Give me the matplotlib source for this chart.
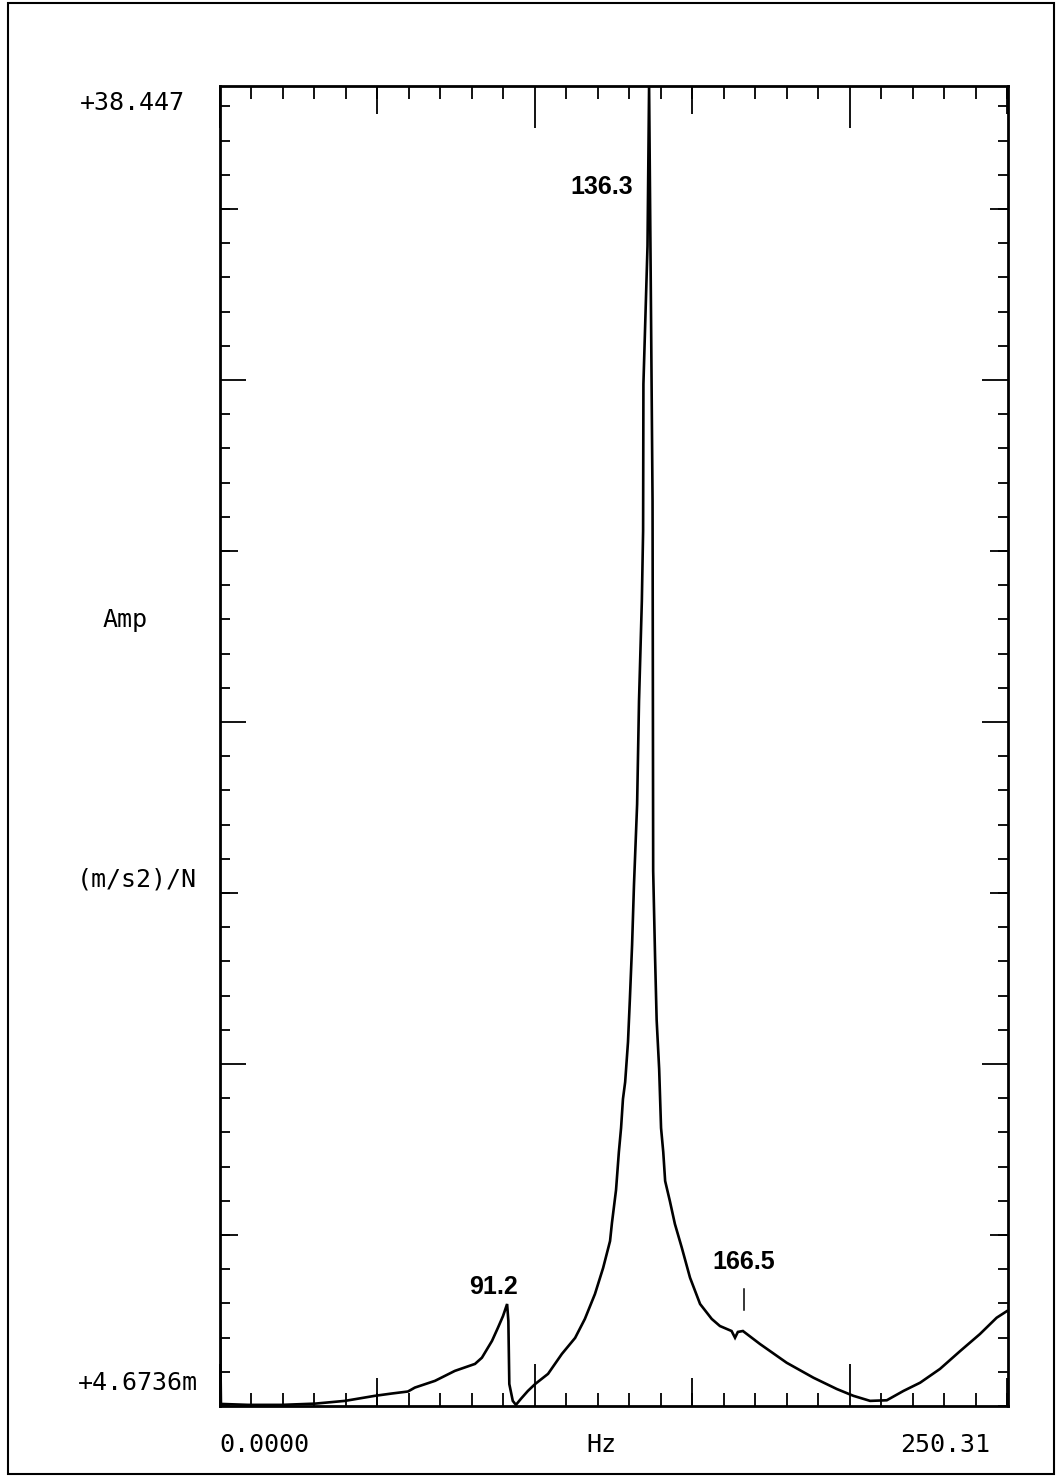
import numpy as np
import matplotlib.pyplot as plt
from matplotlib.ticker import FixedLocator, NullLocator
from matplotlib.patches import Rectangle

# FRF magnitude, (m/s2)/N vs frequency in Hz
freq = [0.0, 0.3, 8.9, 19.7, 30.2, 39.7, 49.2, 54.6, 59.7, 61.9,
        68.3, 74.6, 81.0, 83.2, 86.4, 88.3, 89.9, 91.2, 91.6, 91.9,
        93.0, 94.0, 95.6, 97.8, 100.1, 104.2, 108.6, 112.8, 115.9, 119.1,
        121.7, 123.9, 124.5, 125.8, 126.7, 127.4, 128.0, 128.7, 129.6, 130.2,
        130.9, 131.5, 132.5, 133.1, 134.0, 134.4, 134.5, 135.8, 136.3, 136.8,
        137.4, 137.6, 138.2, 138.7, 139.5, 140.1, 140.8, 141.4, 142.9, 144.5,
        146.7, 149.3, 152.5, 156.2, 158.8, 162.5, 163.6, 164.5, 166.1, 171.5,
        180.0, 188.5, 195.9, 201.2, 206.5, 211.8, 217.1, 222.4, 228.7, 235.1,
        241.4, 246.7, 250.0]
amp = [0.00835, 0.00474, 0.00471, 0.00471, 0.00475, 0.00484, 0.00501, 0.00509, 0.00516, 0.00530,
       0.00555, 0.00594, 0.00623, 0.00650, 0.00729, 0.00798, 0.00864, 0.00938, 0.00835, 0.00543,
       0.00484, 0.00471, 0.00491, 0.00518, 0.00543, 0.00582, 0.00667, 0.00744, 0.00847, 0.01004,
       0.01200, 0.01442, 0.01631, 0.02043, 0.02649, 0.03121, 0.03804, 0.04272, 0.05615, 0.07530,
       0.1089, 0.1641, 0.2851, 0.5763, 1.141, 1.841, 5.023, 12.89, 38.40, 10.87,
       2.259, 0.1805, 0.1003, 0.06527, 0.04669, 0.03121, 0.02649, 0.02173, 0.01895, 0.01620,
       0.01377, 0.01123, 0.00938, 0.00847, 0.00807, 0.00780, 0.00745, 0.00775, 0.00780, 0.00714,
       0.00628, 0.00567, 0.00525, 0.00501, 0.00484, 0.00486, 0.00518, 0.00548, 0.00602, 0.00680,
       0.00764, 0.00854, 0.00894]

# analyzer marker readouts
marker_freqs = [91.2, 136.3, 166.5]

# display range
x_start, x_stop = 0.0, 250.31
y_bottom, y_top = 4.6736e-3, 38.447

W, H = 1058, 1477
fig = plt.figure(figsize=(W / 100, H / 100), dpi=100)
ax = fig.add_axes([220 / W, 1 - 1406 / H, 788 / W, 1320 / H])

ax.plot(freq, amp, color='black', lw=1.9, solid_joinstyle='miter')
ax.set_yscale('log')
ax.set_xlim(x_start, x_stop)
ax.set_ylim(y_bottom, y_top)

for s in ax.spines.values():
    s.set_linewidth(2.0)

# x ticks: long every 100 Hz, medium every 50, short every 10
x_minor = np.arange(0, 251, 10)
ax.xaxis.set_major_locator(FixedLocator([0, 100, 200]))
ax.xaxis.set_minor_locator(FixedLocator(x_minor))

# y ticks are evenly spaced on the display, 10 to a long division
frac = np.arange(0, 39) * 0.02591
y_ticks = y_bottom * (y_top / y_bottom) ** frac
ax.yaxis.set_major_locator(FixedLocator(y_ticks[[10, 20, 30]]))
ax.yaxis.set_minor_locator(FixedLocator(y_ticks))

ax.tick_params(which='both', direction='in', top=True, right=True,
               labelbottom=False, labelleft=False, width=1.3, color='black')
ax.tick_params(axis='x', which='major', length=30)
ax.tick_params(axis='x', which='minor', length=9.5)
ax.tick_params(axis='y', which='major', length=19)
ax.tick_params(axis='y', which='minor', length=7.5)

# medium ticks on all four sides
for loc in ['top', 'bottom']:
    sec = ax.secondary_xaxis(loc)
    sec.set_xticks([50, 150, 250])
    sec.xaxis.set_minor_locator(NullLocator())
    sec.tick_params(direction='in', length=20, width=1.3,
                    labeltop=False, labelbottom=False)
    for s in sec.spines.values():
        s.set_visible(False)
for loc in ['left', 'right']:
    sec = ax.secondary_yaxis(loc)
    sec.set_yticks(y_ticks[[5, 15, 25, 35]])
    sec.yaxis.set_minor_locator(NullLocator())
    sec.tick_params(which='both', direction='in', length=13, width=1.3,
                    labelleft=False, labelright=False)
    for s in sec.spines.values():
        s.set_visible(False)

# marker labels
label_offsets = [(-10, 12), (-34, -72.5), (0, 50)]
for f, off in zip(marker_freqs, label_offsets):
    v = np.interp(f, freq, amp)
    ax.annotate(f'{f:.1f}', xy=(f, v), xytext=off, textcoords='offset points',
                ha='center', va='center', fontsize=18, fontweight='bold',
                family='Liberation Sans')
# marker stroke above the 166.5 Hz readout
v = np.interp(marker_freqs[2], freq, amp)
ax.plot([marker_freqs[2]] * 2, [v * 1.16, v * 1.34], color='black', lw=1.1)

# plotter-style scale annotations
pl = dict(family='DejaVu Sans Mono', fontsize=18, color='black', va='center')
fig.text(185 / W, 1 - 103 / H, f'+{y_top:.3f}', ha='right', **pl)
fig.text(198 / W, 1 - 1383 / H, f'+{y_bottom * 1000:.4f}m', ha='right', **pl)
fig.text(125 / W, 1 - 620 / H, 'Amp', ha='center', **pl)
fig.text(197 / W, 1 - 880 / H, '(m/s2)/N', ha='right', **pl)
fig.text(219 / W, 1 - 1445 / H, f'{x_start:.4f}', ha='left', **pl)
fig.text(601 / W, 1 - 1445 / H, 'Hz', ha='center', **pl)
fig.text(990 / W, 1 - 1445 / H, f'{x_stop:.2f}', ha='right', **pl)

# page border
fig.patches.append(Rectangle((8 / W, 3 / H), (1054 - 8) / W, (1474 - 3) / H,
                             transform=fig.transFigure, fill=False,
                             lw=1.5, ec='black'))

fig.savefig('out.png', dpi=100)
